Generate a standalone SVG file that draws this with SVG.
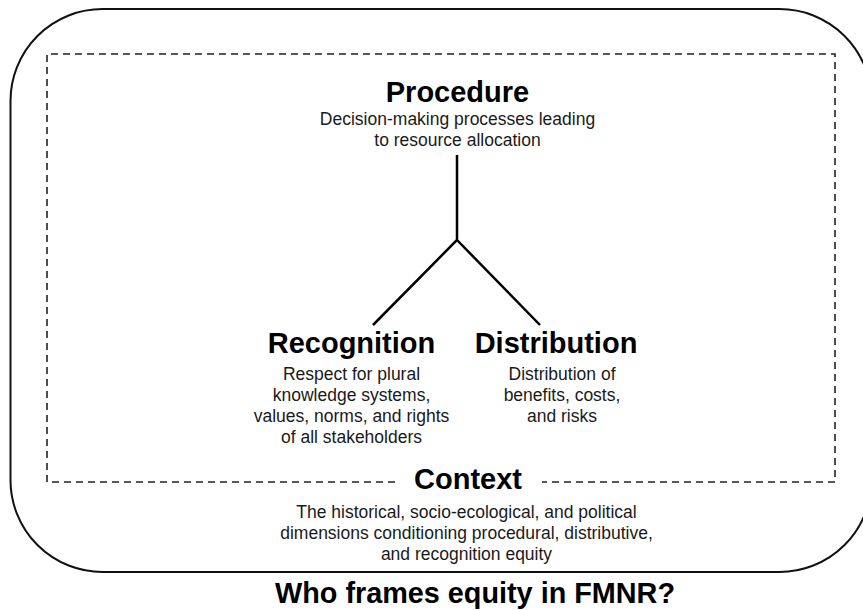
<svg xmlns="http://www.w3.org/2000/svg" width="863" height="610" viewBox="0 0 863 610">
<style>
.h{font-family:"Liberation Sans",Arial,sans-serif;font-weight:bold;font-size:29px;fill:#000;text-anchor:middle}
.d{font-family:"Liberation Sans",Arial,sans-serif;font-size:17.5px;fill:#1a1a1a;text-anchor:middle}
.dash{fill:none;stroke:#222;stroke-width:1.6;stroke-dasharray:7 5}
.conn{fill:none;stroke:#000;stroke-width:2.5}
</style>
<rect width="863" height="610" fill="#fff"/>
<g id="frame">
<rect x="10.5" y="9" width="861" height="563" rx="92" ry="92" fill="none" stroke="#111" stroke-width="2"/>
<path class="dash" d="M395 482 H47 V54 H835 V482 H542"/>
</g>
<g id="procedure">
<text class="h" x="457.5" y="102">Procedure</text>
<text class="d" x="457.5" y="125">Decision-making processes leading</text>
<text class="d" x="457.5" y="146">to resource allocation</text>
</g>
<g id="recognition">
<text class="h" x="351.5" y="353">Recognition</text>
<text class="d" x="351.5" y="380">Respect for plural</text>
<text class="d" x="351.5" y="401">knowledge systems,</text>
<text class="d" x="351.5" y="422">values, norms, and rights</text>
<text class="d" x="351.5" y="443">of all stakeholders</text>
</g>
<g id="distribution">
<text class="h" x="556" y="353">Distribution</text>
<text class="d" x="562" y="380">Distribution of</text>
<text class="d" x="562" y="401">benefits, costs,</text>
<text class="d" x="562" y="422">and risks</text>
</g>
<g id="context">
<text class="h" x="468" y="489">Context</text>
<text class="d" x="466.5" y="518">The historical, socio-ecological, and political</text>
<text class="d" x="466.5" y="539">dimensions conditioning procedural, distributive,</text>
<text class="d" x="466.5" y="560">and recognition equity</text>
</g>
<g id="connectors">
<path class="conn" d="M457 155 V240 L373 325 M457 240 L540 325"/>
</g>
<g id="title">
<text class="h" x="475" y="603" style="font-size:28.8px">Who frames equity in FMNR?</text>
</g>
</svg>
